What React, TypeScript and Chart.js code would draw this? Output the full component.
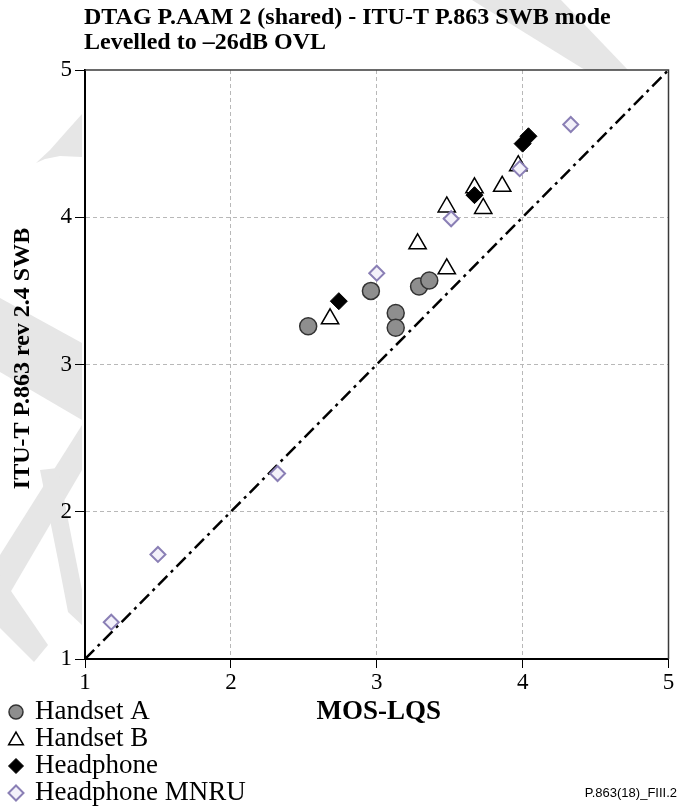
import React, { useEffect, useRef } from "react";
import { Chart, registerables } from "chart.js";

Chart.register(...registerables);

// ---------------- data ----------------
const chartTitle = ["DTAG P.AAM 2 (shared) - ITU-T P.863 SWB mode", "Levelled to \u201326dB OVL"];
const xTitle = "MOS-LQS";
const yTitle = "ITU-T P.863 rev 2.4 SWB";
const figureLabel = "P.863(18)_FIII.2";
const axisMin = 1;
const axisMax = 5;
const seriesLabels = ["Handset A", "Handset B", "Headphone", "Headphone MNRU"];

const handsetAX = [2.53, 2.96, 3.13, 3.13, 3.29, 3.36];
const handsetAY = [3.26, 3.5, 3.35, 3.25, 3.53, 3.57];
const handsetBX = [2.68, 3.48, 3.28, 3.48, 3.73, 3.67, 3.86, 3.97];
const handsetBY = [3.31, 3.65, 3.82, 4.07, 4.06, 4.2, 4.21, 4.35];
const headphoneX = [2.74, 3.67, 4.0, 4.04];
const headphoneY = [3.43, 4.15, 4.5, 4.55];
const mnruX = [1.18, 1.5, 2.32, 3.0, 3.51, 3.98, 4.33];
const mnruY = [1.25, 1.71, 2.26, 3.62, 3.99, 4.33, 4.63];
const diagonalX = [1, 5];
const diagonalY = [1, 5];

// ---------------- styles ----------------
const SERIF = '"Liberation Serif", "Times New Roman", serif';
const SANS = '"Liberation Sans", Arial, sans-serif';

const seriesStyles = [
  { shape: "circle", fill: "#8e8e8e", stroke: "#333333", width: 1.5, r: 8.5, lr: 7 },
  { shape: "triangle", fill: "#ffffff", stroke: "#000000", width: 1.5, r: 10, lr: 8.5 },
  { shape: "diamond", fill: "#000000", stroke: "#000000", width: 1, r: 8.5, lr: 7.5 },
  { shape: "diamond", fill: "#f3f1fa", stroke: "#8a7fb5", width: 2, r: 7.5, lr: 7.5 },
];

const watermark: number[][][] = [
  [[472, 0], [561, 0], [628, 70], [585, 70]],
  [[36, 163], [50, 150], [65, 133], [82, 114], [82, 157], [60, 156], [45, 159]],
  [[0, 298], [82, 343], [82, 420], [0, 372]],
  [[82, 425], [82, 470], [0, 610], [0, 555]],
  [[40, 470], [58, 468], [72, 540], [82, 590], [82, 625], [68, 612], [58, 560]],
  [[0, 575], [48, 645], [34, 662], [0, 628]],
];

function pts(xs: number[], ys: number[]) {
  return xs.map((x, i) => ({ x, y: ys[i] }));
}

function drawShape(ctx: CanvasRenderingContext2D, shape: string, x: number, y: number, r: number) {
  ctx.beginPath();
  if (shape === "circle") {
    ctx.arc(x, y, r, 0, Math.PI * 2);
  } else if (shape === "triangle") {
    for (let k = 0; k < 3; k++) {
      const a = -Math.PI / 2 + (k * 2 * Math.PI) / 3;
      const px = x + Math.cos(a) * r;
      const py = y + Math.sin(a) * r;
      if (k === 0) ctx.moveTo(px, py);
      else ctx.lineTo(px, py);
    }
  } else {
    ctx.moveTo(x, y - r);
    ctx.lineTo(x + r, y);
    ctx.lineTo(x, y + r);
    ctx.lineTo(x - r, y);
  }
  ctx.closePath();
}

const decorPlugin = {
  id: "decor",
  beforeDraw(chart: any) {
    const ctx = chart.ctx as CanvasRenderingContext2D;
    const { left, top, right, bottom } = chart.chartArea;
    ctx.save();
    ctx.fillStyle = "#ffffff";
    ctx.fillRect(0, 0, chart.width, chart.height);
    ctx.fillStyle = "#e6e6e6";
    for (const poly of watermark) {
      ctx.beginPath();
      poly.forEach(([px, py], i) => (i === 0 ? ctx.moveTo(px, py) : ctx.lineTo(px, py)));
      ctx.closePath();
      ctx.fill();
    }
    ctx.fillStyle = "#ffffff";
    ctx.fillRect(left, top, right - left, bottom - top);
    ctx.restore();
  },
  afterDraw(chart: any) {
    const ctx = chart.ctx as CanvasRenderingContext2D;
    const { left, top, right, bottom } = chart.chartArea;
    ctx.save();
    // box (top + right)
    ctx.strokeStyle = "#3a3a3a";
    ctx.lineWidth = 1.5;
    ctx.beginPath();
    ctx.moveTo(left, top);
    ctx.lineTo(right, top);
    ctx.lineTo(right, bottom);
    ctx.stroke();

    // title
    ctx.fillStyle = "#000";
    ctx.textAlign = "left";
    ctx.textBaseline = "middle";
    ctx.font = `bold 24px ${SERIF}`;
    chartTitle.forEach((t, i) => ctx.fillText(t, left - 1, 18 + i * 25));

    // axis titles
    ctx.textAlign = "center";
    ctx.font = `bold 27px ${SERIF}`;
    ctx.fillText(xTitle, (left + right) / 2 + 2, 712);
    ctx.font = `bold 24px ${SERIF}`;
    ctx.save();
    ctx.translate(23, (top + bottom) / 2 - 6);
    ctx.rotate(-Math.PI / 2);
    ctx.fillText(yTitle, 0, 0);
    ctx.restore();

    // legend
    const legendY0 = 712;
    const legendStep = 27;
    ctx.textAlign = "left";
    ctx.font = `27px ${SERIF}`;
    seriesLabels.forEach((label, i) => {
      const st = seriesStyles[i];
      const cy = legendY0 + i * legendStep;
      drawShape(ctx, st.shape, 16, cy + (st.shape === "triangle" ? 1.5 : 0), st.lr);
      ctx.fillStyle = st.fill;
      ctx.fill();
      ctx.lineWidth = st.width;
      ctx.strokeStyle = st.stroke;
      ctx.stroke();
      ctx.fillStyle = "#000";
      ctx.fillText(label, 35, cy);
    });

    // figure label
    ctx.font = `13px ${SANS}`;
    ctx.textAlign = "right";
    ctx.fillStyle = "#000";
    ctx.fillText(figureLabel, 677, legendY0 + 3 * legendStep);
    ctx.restore();
  },
};

const shapeToPointStyle: Record<string, string> = {
  circle: "circle",
  triangle: "triangle",
  diamond: "rectRot",
};

export default function App() {
  const ref = useRef<HTMLCanvasElement>(null);

  useEffect(() => {
    document.body.style.margin = "0";
    const canvas = ref.current;
    if (!canvas) return;

    const seriesData = [
      pts(handsetAX, handsetAY),
      pts(handsetBX, handsetBY),
      pts(headphoneX, headphoneY),
      pts(mnruX, mnruY),
    ];
    const pointSets = seriesLabels.map((label, i) => {
      const st = seriesStyles[i];
      return {
        label,
        data: seriesData[i],
        pointStyle: shapeToPointStyle[st.shape],
        pointRadius: st.r,
        pointBackgroundColor: st.fill,
        pointBorderColor: st.stroke,
        pointBorderWidth: st.width,
        showLine: false,
      };
    });
    // draw order: MNRU on top, then Headphone, Handset B, Handset A, diagonal
    const datasets: any[] = [pointSets[3], pointSets[2], pointSets[1], pointSets[0]];
    datasets.push({
      label: "diagonal",
      data: pts(diagonalX, diagonalY),
      showLine: true,
      borderColor: "#000",
      borderWidth: 2.5,
      borderDash: [13, 5, 3, 5],
      pointRadius: 0,
      fill: false,
    });

    const gridColor = (c: any) =>
      c.tick && (c.tick.value === axisMin || c.tick.value === axisMax) ? "rgba(0,0,0,0)" : "#b8b8b8";

    const chart = new Chart(canvas, {
      type: "scatter",
      data: { datasets },
      options: {
        animation: false,
        responsive: false,
        devicePixelRatio: 1,
        layout: { padding: { left: 0, top: 70, right: 11, bottom: 0 } },
        plugins: { legend: { display: false }, tooltip: { enabled: false }, title: { display: false } },
        scales: {
          x: {
            type: "linear",
            min: axisMin,
            max: axisMax,
            afterFit: (s: any) => {
              s.height = 149;
            },
            ticks: {
              stepSize: 1,
              color: "#000",
              padding: 1,
              font: { family: SERIF, size: 23 },
            },
            grid: {
              color: gridColor,
              lineWidth: 1,
              tickColor: "#000",
              tickLength: 9,
              tickWidth: 1,
            },
            border: { display: true, color: "#000", width: 2, dash: [4, 3] },
            title: { display: false },
          },
          y: {
            type: "linear",
            min: axisMin,
            max: axisMax,
            afterFit: (s: any) => {
              s.width = 85;
            },
            ticks: {
              stepSize: 1,
              color: "#000",
              padding: 3,
              font: { family: SERIF, size: 23 },
            },
            grid: {
              color: gridColor,
              lineWidth: 1,
              tickColor: "#000",
              tickLength: 10,
              tickWidth: 1,
            },
            border: { display: true, color: "#000", width: 2, dash: [4, 3] },
            title: { display: false },
          },
        },
      },
      plugins: [decorPlugin],
    } as any);

    return () => chart.destroy();
  }, []);

  return <canvas ref={ref} width={680} height={808} style={{ display: "block" }} />;
}
